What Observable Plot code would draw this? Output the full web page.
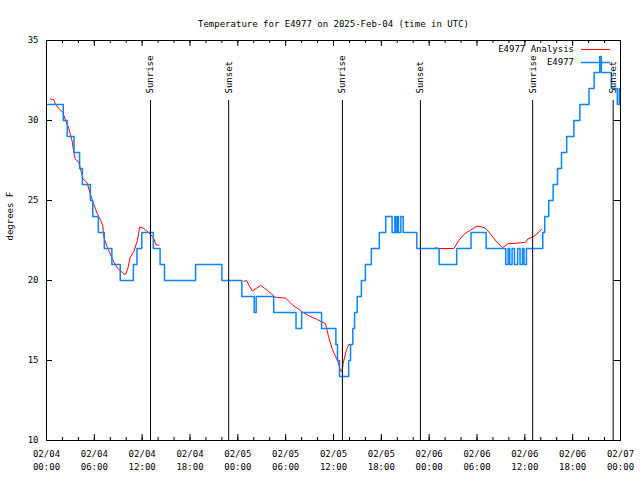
<!DOCTYPE html>
<html><head><meta charset="utf-8">
<script src="https://cdn.jsdelivr.net/npm/d3@7"></script>
<script src="https://cdn.jsdelivr.net/npm/@observablehq/plot@0.6"></script>
<style>body{margin:0;background:#fff} svg{display:block}</style>
</head><body><div id="chart"></div>
<script>
// hours since 2025-02-04 00:00 UTC
const obsHours = [0.1, 2.1, 2.6, 3.45, 4.15, 4.5, 5.5, 5.8, 6.5, 7.25, 8.2, 9.25, 10.9, 11.35, 11.95, 13.4, 14.25, 14.8, 18.7, 22.0, 24.5, 26.05, 26.3, 28.5, 31.3, 32.0, 34.5, 36.3, 36.5, 36.75, 37.9, 38.14, 38.43, 38.64, 38.98, 39.5, 40.0, 40.75, 41.75, 42.55, 43.35, 43.7, 43.8, 44.0, 44.15, 44.45, 44.75, 46.45, 49.25, 51.45, 53.25, 55.15, 57.6, 57.9, 58.1, 58.4, 58.7, 59.1, 59.4, 59.7, 59.9, 60.2, 62.25, 62.5, 63.0, 63.55, 64.1, 64.6, 65.25, 66.15, 66.9, 68.05, 68.7, 69.4, 69.6, 70.85, 71.6, 71.85, 72.0];
const obsTemps = [31, 30, 29, 28, 27, 26, 25, 24, 23, 22, 21, 20, 21, 22, 23, 22, 21, 20, 21, 20, 19, 18, 19, 18, 17, 18, 17, 16, 15, 14, 15, 16, 17, 18, 19, 20, 21, 22, 23, 24, 23, 24, 23, 24, 23, 24, 23, 22, 21, 22, 23, 22, 21, 22, 21, 22, 21, 22, 21, 22, 21, 22, 23, 24, 25, 26, 27, 28, 29, 30, 31, 32, 33, 34, 33, 32, 31, 32, 32];

const anaHours = [0.5, 0.9, 1.15, 1.55, 2.05, 2.4, 2.8, 3.2, 3.4, 3.6, 4.05, 4.35, 4.6, 5.1, 5.5, 5.9, 6.35, 6.8, 7.05, 7.2, 7.6, 8.0, 8.45, 8.85, 9.3, 9.7, 9.95, 10.2, 10.5, 10.95, 11.4, 11.7, 12.2, 12.8, 13.4, 13.7, 14.1,
  NaN,
  24.75, 25.1, 25.4, 25.8, 26.3, 26.85, 27.4, 27.9, 28.7, 30.0, 30.8, 31.9, 32.9, 34.0, 35.0, 35.4, 35.85, 36.5, 36.9, 37.05, 37.2, 37.6, 37.9, 38.2,
  NaN,
  48.8, 49.2, 51.1, 51.7, 52.4, 53.2, 54.0, 54.6, 55.1, 55.7, 56.5, 57.2, 57.9, 59.5, 60.1, 60.4, 60.9, 61.4, 62.1];
const anaTemps = [31.35, 31.3, 31.0, 30.75, 30.5, 30.0, 29.5, 28.75, 28.1, 27.6, 27.4, 26.8, 26.35, 26.1, 25.4, 24.8, 24.2, 23.75, 23.45, 22.7, 22.1, 21.65, 21.15, 20.8, 20.6, 20.4, 20.4, 20.75, 21.45, 21.8, 22.5, 23.35, 23.25, 23.0, 22.7, 22.25, 22.2,
  NaN,
  19.95, 20.0, 19.7, 19.35, 19.5, 19.7, 19.5, 19.3, 18.95, 18.9, 18.5, 18.1, 17.8, 17.55, 17.3, 16.45, 15.7, 15.0, 14.35, 14.3, 14.8, 15.6, 16.0, 16.0,
  NaN,
  22.05, 22.0, 22.0, 22.5, 22.9, 23.15, 23.4, 23.35, 23.25, 22.9, 22.4, 22.05, 22.3, 22.35, 22.4, 22.6, 22.7, 22.85, 23.2];

const sunHours = [13.05, 22.85, 37.12, 46.9, 60.98, 71.08];
const sunLabels = ["Sunrise", "Sunset", "Sunrise", "Sunset", "Sunrise", "Sunset"];
const yTicks = [10, 15, 20, 25, 30, 35];
const xMajorHours = [0, 6, 12, 18, 24, 30, 36, 42, 48, 54, 60, 66, 72];
const xMinorHours = d3.range(0, 73, 2);

const titleText = "Temperature for E4977 on 2025-Feb-04 (time in UTC)";
const yLabel = "degrees F";
const seriesNames = ["E4977 Analysis", "E4977"];
const seriesColors = ["#ff0000", "#0a84ff"];

const t0 = Date.UTC(2025, 1, 4);
const t = h => new Date(t0 + h * 3600e3);

const obs = obsHours.map((h, i) => ({time: t(h), temp: obsTemps[i]}));
const ana = anaHours.map((h, i) => ({time: isNaN(h) ? null : t(h), temp: anaTemps[i]}));
const sun = sunHours.map((h, i) => ({time: t(h), label: sunLabels[i]}));
const majors = xMajorHours.map(t);
const minors = xMinorHours.map(t);
const fmt = d3.utcFormat("%m/%d\n%H:%M");

const W = 640, H = 480, ML = 46, MR = 20, MT = 40, MB = 40;
const FW = W - ML - MR, FH = H - MT - MB;
const FONT = "'DejaVu Sans Mono', monospace", FS = "9px";

const chart = Plot.plot({
  width: W, height: H,
  marginLeft: ML, marginRight: MR, marginTop: MT, marginBottom: MB,
  style: {fontFamily: FONT, fontSize: FS, background: "#fff", color: "#000"},
  x: {type: "utc", domain: [t(0), t(72)], axis: null},
  y: {domain: [10, 35], axis: null},
  marks: [
    // data
    Plot.line(ana, {x: "time", y: "temp", stroke: seriesColors[0], strokeWidth: 1}),
    Plot.line(obs, {x: "time", y: "temp", curve: "step-after", stroke: seriesColors[1], strokeWidth: 1.5}),
    // sunrise / sunset
    Plot.ruleX(sun, {x: "time", insetTop: 60, stroke: "#000", strokeWidth: 1}),
    Plot.text(sun, {x: "time", text: "label", frameAnchor: "top", dy: 53, rotate: -90, textAnchor: "start", lineAnchor: "middle", fill: "#000"}),
    // ticks (inward)
    Plot.ruleX(majors, {insetTop: FH - 6, stroke: "#000"}),
    Plot.ruleX(majors, {insetBottom: FH - 6, stroke: "#000"}),
    Plot.ruleX(minors, {insetTop: FH - 3, stroke: "#000"}),
    Plot.ruleX(minors, {insetBottom: FH - 3, stroke: "#000"}),
    Plot.ruleY(yTicks, {insetRight: FW - 6, stroke: "#000"}),
    Plot.ruleY(yTicks, {insetLeft: FW - 6, stroke: "#000"}),
    // tick labels
    Plot.axisX(majors, {anchor: "bottom", tickSize: 0, tickPadding: 7, tickFormat: fmt, lineHeight: 1.45, label: null}),
    Plot.axisY(yTicks, {anchor: "left", tickSize: 0, tickPadding: 8, label: null}),
    Plot.frame({stroke: "#000"}),
    // titles
    Plot.text([titleText], {frameAnchor: "top", dy: -20, fill: "#000"}),
    Plot.text([yLabel], {frameAnchor: "left", dx: -36, rotate: -90, fill: "#000"})
  ]
});

// legend
const svg = d3.select(chart);
const leg = svg.append("g").attr("font-family", FONT).attr("font-size", FS);
seriesNames.forEach((name, i) => {
  const y = 49.5 + i * 13;
  leg.append("text").attr("x", 574).attr("y", y).attr("dy", "0.32em").attr("text-anchor", "end").attr("fill", "#000").text(name);
  leg.append("line").attr("x1", 581).attr("x2", 610).attr("y1", y).attr("y2", y)
    .attr("stroke", seriesColors[i]).attr("stroke-width", i === 0 ? 1 : 1.5);
});

document.getElementById("chart").appendChild(chart);
</script>
</body></html>
